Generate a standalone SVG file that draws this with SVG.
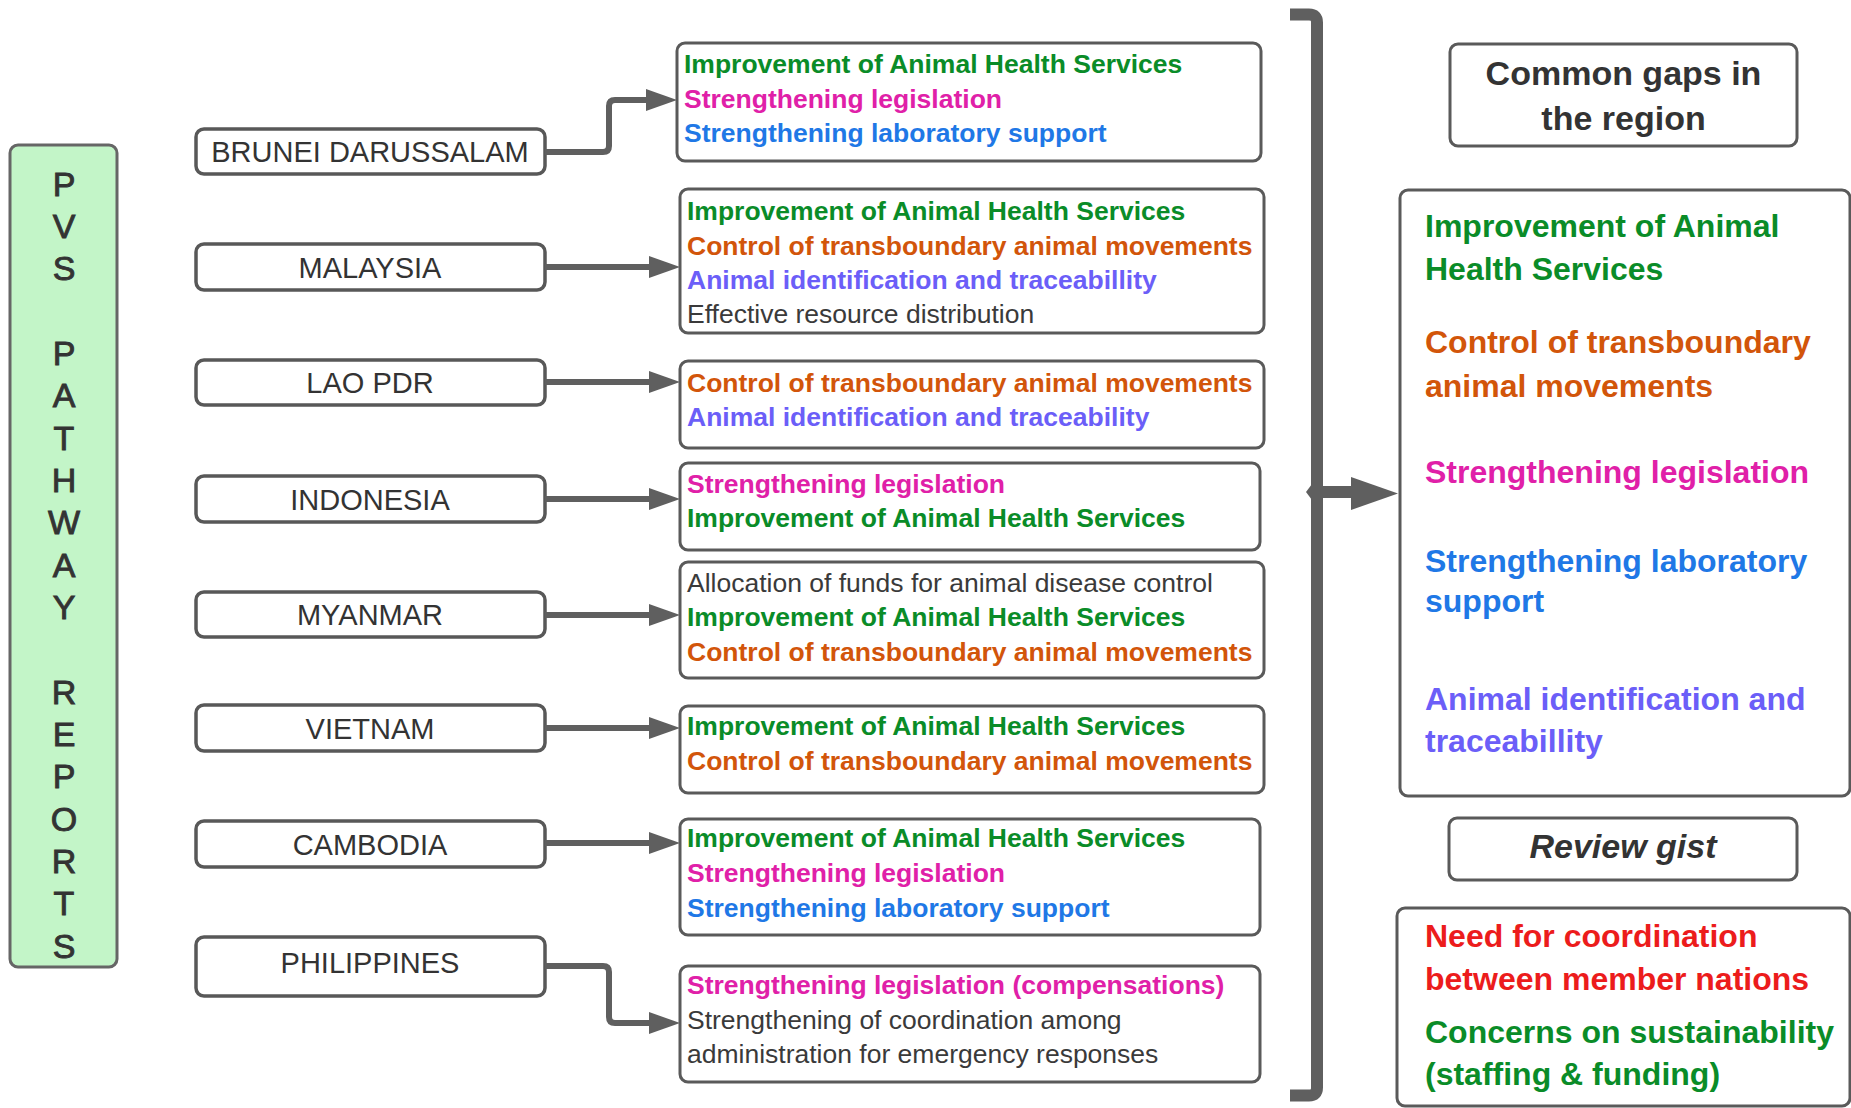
<svg xmlns="http://www.w3.org/2000/svg" width="1851" height="1108" viewBox="0 0 1851 1108">
<style>
.box{fill:#fff;stroke:#5a5a5a;stroke-width:3}
.cbox{fill:#fff;stroke:#585858;stroke-width:3.5}
.ctry{font-family:"Liberation Sans",Arial,sans-serif;font-size:29px;fill:#333;text-anchor:middle}
.pvs{font-family:"Liberation Sans",Arial,sans-serif;font-size:34px;fill:#333;stroke:#333;stroke-width:0.9;text-anchor:middle}
.d{font-family:"Liberation Sans",Arial,sans-serif;font-size:26.5px;font-weight:bold}
.r{font-family:"Liberation Sans",Arial,sans-serif;font-size:32px;font-weight:bold}
.hd{fill:#333;text-anchor:middle}
.reg{font-weight:normal;fill:#3a3a3a}
.g{fill:#0a8c28}.m{fill:#e020a8}.b{fill:#1f78e6}.o{fill:#d2550a}.p{fill:#6b5ef8}.red{fill:#ec1c1c}
.conn{fill:none;stroke:#5f5f5f;stroke-width:6}
.big{fill:none;stroke:#5f5f5f;stroke-width:12}
</style>
<defs>
<marker id="ah" viewBox="0 0 31 22" markerWidth="31" markerHeight="22" refX="1" refY="11" orient="auto" markerUnits="userSpaceOnUse">
<path d="M0,0 L31,11 L0,22 Z" fill="#5f5f5f"/>
</marker>
</defs>

<g id="pvs">
<rect x="10" y="145" width="107" height="822" rx="8" fill="#c3f5c8" stroke="#666" stroke-width="3"/>
<text class="pvs" x="64" y="195.5">P</text>
<text class="pvs" x="64" y="237.8">V</text>
<text class="pvs" x="64" y="280.2">S</text>
<text class="pvs" x="64" y="364.8">P</text>
<text class="pvs" x="64" y="407.2">A</text>
<text class="pvs" x="64" y="449.5">T</text>
<text class="pvs" x="64" y="491.8">H</text>
<text class="pvs" x="64" y="534.2">W</text>
<text class="pvs" x="64" y="576.5">A</text>
<text class="pvs" x="64" y="618.8">Y</text>
<text class="pvs" x="64" y="703.5">R</text>
<text class="pvs" x="64" y="745.8">E</text>
<text class="pvs" x="64" y="788.2">P</text>
<text class="pvs" x="64" y="830.5">O</text>
<text class="pvs" x="64" y="872.8">R</text>
<text class="pvs" x="64" y="915.2">T</text>
<text class="pvs" x="64" y="957.5">S</text>
</g>

<g id="c-brunei"><rect class="cbox" x="196" y="129" width="349" height="45" rx="8"/><text class="ctry" x="370" y="162">BRUNEI DARUSSALAM</text></g>
<g id="c-malaysia"><rect class="cbox" x="196" y="244" width="349" height="46" rx="8"/><text class="ctry" x="370" y="277.5">MALAYSIA</text></g>
<g id="c-lao"><rect class="cbox" x="196" y="360" width="349" height="45" rx="8"/><text class="ctry" x="370" y="393">LAO PDR</text></g>
<g id="c-indonesia"><rect class="cbox" x="196" y="476" width="349" height="46" rx="8"/><text class="ctry" x="370" y="509.5">INDONESIA</text></g>
<g id="c-myanmar"><rect class="cbox" x="196" y="592" width="349" height="45" rx="8"/><text class="ctry" x="370" y="625">MYANMAR</text></g>
<g id="c-vietnam"><rect class="cbox" x="196" y="705" width="349" height="46" rx="8"/><text class="ctry" x="370" y="738.5">VIETNAM</text></g>
<g id="c-cambodia"><rect class="cbox" x="196" y="821" width="349" height="46" rx="8"/><text class="ctry" x="370" y="854.5">CAMBODIA</text></g>
<g id="c-philippines"><rect class="cbox" x="196" y="937" width="349" height="59" rx="8"/><text class="ctry" x="370" y="973">PHILIPPINES</text></g>

<g id="d-brunei"><rect class="box" x="677" y="43" width="584" height="118" rx="8"/>
<text class="d g" x="684" y="73">Improvement of Animal Health Services</text>
<text class="d m" x="684" y="108">Strengthening legislation</text>
<text class="d b" x="684" y="142">Strengthening laboratory support</text></g>

<g id="d-malaysia"><rect class="box" x="680" y="189" width="584" height="144" rx="8"/>
<text class="d g" x="687" y="220">Improvement of Animal Health Services</text>
<text class="d o" x="687" y="255">Control of transboundary animal movements</text>
<text class="d p" x="687" y="289">Animal identification and traceabillity</text>
<text class="d reg" x="687" y="323">Effective resource distribution</text></g>

<g id="d-lao"><rect class="box" x="680" y="361" width="584" height="87" rx="8"/>
<text class="d o" x="687" y="392">Control of transboundary animal movements</text>
<text class="d p" x="687" y="426">Animal identification and traceability</text></g>

<g id="d-indonesia"><rect class="box" x="680" y="463" width="580" height="87" rx="8"/>
<text class="d m" x="687" y="493">Strengthening legislation</text>
<text class="d g" x="687" y="527">Improvement of Animal Health Services</text></g>

<g id="d-myanmar"><rect class="box" x="680" y="562" width="584" height="116" rx="8"/>
<text class="d reg" x="687" y="592">Allocation of funds for animal disease control</text>
<text class="d g" x="687" y="626">Improvement of Animal Health Services</text>
<text class="d o" x="687" y="661">Control of transboundary animal movements</text></g>

<g id="d-vietnam"><rect class="box" x="680" y="706" width="584" height="87" rx="8"/>
<text class="d g" x="687" y="735">Improvement of Animal Health Services</text>
<text class="d o" x="687" y="770">Control of transboundary animal movements</text></g>

<g id="d-cambodia"><rect class="box" x="680" y="819" width="580" height="116" rx="8"/>
<text class="d g" x="687" y="847">Improvement of Animal Health Services</text>
<text class="d m" x="687" y="882">Strengthening legislation</text>
<text class="d b" x="687" y="917">Strengthening laboratory support</text></g>

<g id="d-philippines"><rect class="box" x="680" y="966" width="580" height="116" rx="8"/>
<text class="d m" x="687" y="994">Strengthening legislation (compensations)</text>
<text class="d reg" x="687" y="1029">Strengthening of coordination among</text>
<text class="d reg" x="687" y="1063">administration for emergency responses</text></g>

<g id="connectors">
<path class="conn" d="M545,152 H603 Q609,152 609,146 V106 Q609,100 615,100 H647" marker-end="url(#ah)"/>
<path class="conn" d="M545,267 H650" marker-end="url(#ah)"/>
<path class="conn" d="M545,382 H650" marker-end="url(#ah)"/>
<path class="conn" d="M545,499 H650" marker-end="url(#ah)"/>
<path class="conn" d="M545,615 H650" marker-end="url(#ah)"/>
<path class="conn" d="M545,728 H650" marker-end="url(#ah)"/>
<path class="conn" d="M545,843 H650" marker-end="url(#ah)"/>
<path class="conn" d="M545,966 H603 Q609,966 609,972 V1017 Q609,1023 615,1023 H650" marker-end="url(#ah)"/>
<path class="big" d="M1290,14.5 H1309 Q1317,14.5 1317,22.5 V1087.5 Q1317,1095.5 1309,1095.5 H1290"/>
<polygon points="1312,484 1306,492 1312,500" fill="#5f5f5f"/>
<path class="big" d="M1317,492 H1353"/>
<polygon points="1351,477 1398,493.5 1351,510" fill="#5f5f5f"/>
</g>

<g id="common-gaps"><rect class="box" x="1450" y="44" width="347" height="102" rx="8"/>
<text class="r hd" x="1623.5" y="85" style="font-size:34px">Common gaps in</text>
<text class="r hd" x="1623.5" y="130" style="font-size:34px">the region</text></g>

<g id="gaps-list"><rect class="box" x="1400" y="190" width="450" height="606" rx="8"/>
<text class="r g" x="1425" y="237">Improvement of Animal</text>
<text class="r g" x="1425" y="280">Health Services</text>
<text class="r o" x="1425" y="353">Control of transboundary</text>
<text class="r o" x="1425" y="397">animal movements</text>
<text class="r m" x="1425" y="483">Strengthening legislation</text>
<text class="r b" x="1425" y="572">Strengthening laboratory</text>
<text class="r b" x="1425" y="612">support</text>
<text class="r p" x="1425" y="710">Animal identification and</text>
<text class="r p" x="1425" y="752">traceabillity</text></g>

<g id="review-gist"><rect class="box" x="1449" y="818" width="348" height="62" rx="8"/>
<text class="r hd" x="1623" y="858" style="font-size:34px;font-style:italic">Review gist</text></g>

<g id="gist-list"><rect class="box" x="1397" y="908" width="453" height="198" rx="8"/>
<text class="r red" x="1425" y="947">Need for coordination</text>
<text class="r red" x="1425" y="990">between member nations</text>
<text class="r g" x="1425" y="1043">Concerns on sustainability</text>
<text class="r g" x="1425" y="1085">(staffing &amp; funding)</text></g>
</svg>
